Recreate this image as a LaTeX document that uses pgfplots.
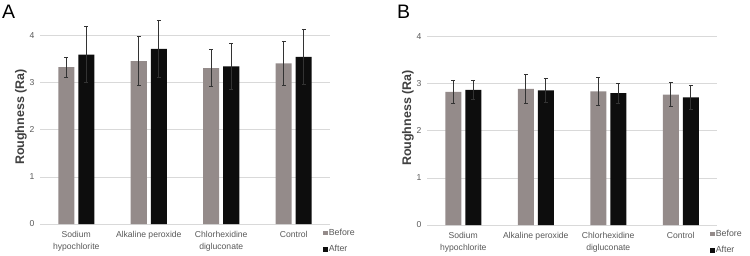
\documentclass[border=0pt]{standalone}
\usepackage{pgfplots}
\pgfplotsset{compat=1.18}
\usepackage{fontspec}
\setmainfont{Liberation Sans}
\definecolor{before}{HTML}{948B8A}
\definecolor{after}{HTML}{0D0D0D}
\definecolor{gridc}{HTML}{D9D9D9}
\definecolor{txt}{HTML}{595959}
\definecolor{lab}{HTML}{404040}
\pgfplotsset{
 myaxis/.style={
  scale only axis, width=290pt, height=188.3pt,
  ymin=0, ymax=4, xmin=-0.5, xmax=3.5,
  ytick={0,1,2,3,4}, xtick={0,1,2,3},
  xticklabels={Sodium\\hypochlorite, Alkaline peroxide, Chlorhexidine\\digluconate, Control},
  axis line style={draw=none}, major tick length=0pt,
  ymajorgrids, grid style={gridc, line width=0.8pt},
  ybar=4pt, bar width=16pt, clip=false,
  tick label style={font=\fontsize{8.6}{11.8}\selectfont, text=txt},
  xticklabel style={align=center, yshift=-3.5pt},
  yticklabel style={xshift=-2pt},
  /pgf/number format/assume math mode=true,
  ylabel={\textbf{Roughness (Ra)}},
  ylabel style={font=\fontsize{12.5}{14}\selectfont, text=lab, at={(rel axis cs:-0.066,0.568)}, anchor=center},
  legend style={draw=none, fill=none, at={(rel axis cs:0.976,-0.02)}, anchor=north west,
     font=\fontsize{8.8}{10}\selectfont, text=txt, inner sep=0pt, row sep=6.5pt,
     nodes={inner sep=1pt}},
  legend cell align=left,
  legend image code/.code={\fill[##1] (0pt,-2.3pt) rectangle (4.6pt,2.3pt);},
  error bars/y dir=both, error bars/y explicit,
  error bars/error bar style={line width=0.7pt, color=black!80},
  error bars/error mark options={rotate=90, mark size=1.8pt, line width=0.7pt, color=black!80},
 }
}
\begin{document}
\begin{tikzpicture}[x=1pt,y=1pt]
\useasboundingbox (0,0) rectangle (750,255);
\node[anchor=north west, inner sep=0pt, font=\fontsize{19.5}{20}\selectfont, text=black] at (2,250) {A};
\node[anchor=north west, inner sep=0pt, font=\fontsize{19.5}{20}\selectfont, text=black] at (397,250) {B};
\begin{axis}[myaxis, at={(40pt,31pt)}, anchor=south west]
\addplot[fill=before, draw=none] coordinates {(0,3.33) +- (0,0.21) (1,3.46) +- (0,0.52) (2,3.31) +- (0,0.39) (3,3.41) +- (0,0.47)};
\addplot[fill=after, draw=none] coordinates {(0,3.60) +- (0,0.59) (1,3.72) +- (0,0.60) (2,3.35) +- (0,0.49) (3,3.55) +- (0,0.58)};
\legend{Before, After}
\end{axis}
\begin{axis}[myaxis, at={(427pt,30pt)}, anchor=south west]
\addplot[fill=before, draw=none] coordinates {(0,2.83) +- (0,0.25) (1,2.89) +- (0,0.31) (2,2.84) +- (0,0.29) (3,2.77) +- (0,0.26)};
\addplot[fill=after, draw=none] coordinates {(0,2.87) +- (0,0.20) (1,2.86) +- (0,0.25) (2,2.80) +- (0,0.21) (3,2.71) +- (0,0.26)};
\legend{Before, After}
\end{axis}
\end{tikzpicture}
\end{document}
